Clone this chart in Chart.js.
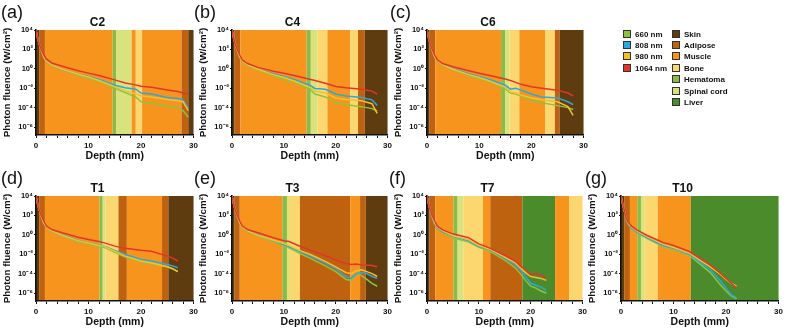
<!DOCTYPE html>
<html><head><meta charset="utf-8">
<script src="https://cdn.jsdelivr.net/npm/chart.js@4.4.0/dist/chart.umd.min.js"></script>
<style>
body{margin:0;width:787px;height:331px;background:#fff;position:relative;overflow:hidden;font-family:"Liberation Sans",Arial,sans-serif}
canvas{position:absolute}
.let{position:absolute;font-size:18px;line-height:18px;color:#111}
.lg{position:absolute;font-size:8px;font-weight:bold;line-height:9px;color:#111;white-space:nowrap}
.lg i{display:inline-block;width:6px;height:6px;border:1px solid #333;vertical-align:-1px;margin-right:4px}
</style></head><body>
<script>
// ---------- data ----------
const wavelengths = ['660 nm','808 nm','980 nm','1064 nm'];
const tissues = ['Skin','Adipose','Muscle','Bone','Hematoma','Spinal cord','Liver'];
const yTickValues = [1e4,1e2,1,1e-2,1e-4,1e-6];
const yTickLabels = ['10\u2074','10\u00B2','10\u2070','10\u207B\u00B2','10\u207B\u2074','10\u207B\u2076'];
const xTickLabels = ['0','10','20','30'];
const panelTitles = ['C2','C4','C6','T1','T3','T7','T10'];
const panelLetters = ['(a)','(b)','(c)','(d)','(e)','(f)','(g)'];

// C2
const depthC2 = [0,0.3,0.6,1,1.5,2,3,5,8,10,12,15,17,19,20,22,25,27,28,29];
const red_C2 = [1e4,1.6e3,4e2,1e2,2.5e1,1e1,4,1.8,0.63,0.36,0.2,0.072,0.035,0.022,0.016,0.0126,0.0066,0.0045,0.0032,0.0025];
const blue_C2 = [1e4,1.6e3,4e2,8e1,1.6e1,6.3,2.5,0.83,0.28,0.16,0.079,0.02,0.011,0.0079,0.0032,0.0025,0.0011,0.00089,0.00063,7.9e-5];
const yellow_C2 = [1e4,1.6e3,4e2,8e1,1.6e1,6.3,2.5,0.89,0.28,0.14,0.063,0.014,0.005,0.0028,0.0016,0.00126,0.0007,0.0005,0.0004,5e-5];
const green_C2 = [1e4,1.6e3,4e2,8e1,1.6e1,5.6,2.2,0.79,0.22,0.107,0.05,0.01,0.0035,0.00126,0.0004,0.00028,0.00014,1e-4,5e-5,1e-5];
const bands_C2 = [[0,0.6,'Skin'],[0.6,1.7,'Adipose'],[1.7,14.6,'Muscle'],[14.6,15.3,'Hematoma'],[15.3,18.2,'Spinal cord'],[18.2,19.0,'Muscle'],[19.0,20.2,'Bone'],[20.2,27.7,'Muscle'],[27.7,29,'Adipose'],[29,30,'Skin']];

// C4
const depthC4 = [0,0.3,0.6,1,1.5,2,3,5,8,10,12,15,16,18,20,22,25,27,28];
const red_C4 = [1e4,1.6e3,4e2,1e2,2.5e1,7.9,3.5,1.4,0.56,0.35,0.2,0.085,0.063,0.033,0.015,0.011,0.0079,0.005,0.0025];
const blue_C4 = [1e4,1.6e3,4e2,8e1,1.6e1,6.3,2.5,0.93,0.32,0.16,0.079,0.02,0.0093,0.0079,0.0025,0.0016,0.0011,0.00063,0.00017];
const yellow_C4 = [1e4,1.6e3,4e2,8e1,1.6e1,6.3,2.5,0.89,0.25,0.126,0.056,0.0126,0.005,0.0032,0.001,0.0007,0.0005,0.00025,2.5e-5];
const green_C4 = [1e4,1.6e3,4e2,8e1,1.6e1,5.6,2.2,0.79,0.2,0.085,0.04,0.0079,0.0025,0.00126,0.00033,0.0002,0.000126,7.9e-5,4.5e-5];
const bands_C4 = [[0,0.5,'Skin'],[0.5,1.6,'Adipose'],[1.6,14.4,'Muscle'],[14.4,15.2,'Hematoma'],[15.2,16.5,'Spinal cord'],[16.5,18.4,'Bone'],[18.4,22.8,'Muscle'],[22.8,24.3,'Bone'],[24.3,25.6,'Adipose'],[25.6,30,'Skin']];

// C6
const depthC6 = [0,0.3,0.6,1,1.5,2,3,5,8,10,12,15,16,17,18,20,22,25,27,28];
const red_C6 = [1e4,1.6e3,4e2,1e2,2.5e1,7.9,3.5,1.6,0.63,0.35,0.2,0.089,0.063,0.04,0.025,0.014,0.01,0.0063,0.0032,0.0016];
const blue_C6 = [1e4,1.6e3,4e2,8e1,1.6e1,6.3,2.5,1.0,0.32,0.16,0.079,0.02,0.0079,0.01,0.0063,0.0025,0.00126,0.001,0.0004,0.0002];
const yellow_C6 = [1e4,1.6e3,4e2,8e1,1.6e1,6.3,2.5,0.89,0.25,0.126,0.056,0.0126,0.004,0.0032,0.002,0.001,0.00063,0.0004,0.000126,1.6e-5];
const green_C6 = [1e4,1.6e3,4e2,8e1,1.6e1,5.6,2.2,0.79,0.2,0.1,0.045,0.0079,0.0032,0.0025,0.0016,0.0005,0.00032,0.00016,0.0001,6.3e-5];
const bands_C6 = [[0,0.5,'Skin'],[0.5,1.6,'Adipose'],[1.6,14.2,'Muscle'],[14.2,15.0,'Hematoma'],[15.0,15.8,'Spinal cord'],[15.8,17.7,'Bone'],[17.7,22.7,'Muscle'],[22.7,24.5,'Bone'],[24.5,25.4,'Adipose'],[25.4,30,'Skin']];

// T1
const depthT1 = [0,0.3,0.6,1,1.5,2,3,5,8,10,12,13,15,17,20,22,25,26,27];
const red_T1 = [1e4,1.6e3,4e2,1e2,2.5e1,7.9,3.5,1.6,0.56,0.33,0.2,0.148,0.068,0.04,0.025,0.02,0.0063,0.004,0.002];
const blue_T1 = [1e4,1.6e3,4e2,8e1,1.6e1,6.3,2.5,1.0,0.28,0.148,0.089,0.068,0.025,0.0093,0.0028,0.002,0.00085,0.00063,0.0004];
const yellow_T1 = [1e4,1.6e3,4e2,8e1,1.6e1,6.3,2.5,0.89,0.25,0.14,0.079,0.063,0.02,0.0063,0.002,0.00126,0.0005,0.00032,0.00016];
const green_T1 = [1e4,1.6e3,4e2,8e1,1.6e1,5.6,2.2,0.79,0.2,0.11,0.063,0.05,0.016,0.005,0.0016,0.001,0.0005,0.00032,0.00016];
const bands_T1 = [[0,0.6,'Skin'],[0.6,1.7,'Adipose'],[1.7,12.1,'Muscle'],[12.1,12.7,'Hematoma'],[12.7,13.2,'Spinal cord'],[13.2,15.7,'Bone'],[15.7,17.3,'Adipose'],[17.3,24.0,'Muscle'],[24.0,25.2,'Adipose'],[25.2,30,'Skin']];

// T3
const depthT3 = [0,0.3,0.6,1,1.5,2,3,5,8,10,11,13,15,18,20,22,23,24,25,26,27,28];
const red_T3 = [1e4,1.6e3,4e2,1e2,2.5e1,7.9,3.5,1.6,0.5,0.25,0.2,0.07,0.028,0.007,0.0025,0.0011,0.00089,0.001,0.00079,0.00079,0.0007,0.0005];
const blue_T3 = [1e4,1.6e3,4e2,8e1,1.6e1,6.3,2.5,1.0,0.25,0.1,0.063,0.02,0.007,0.00126,0.00032,5e-5,3.2e-5,1e-4,1.26e-4,1e-4,5e-5,3.2e-5];
const yellow_T3 = [1e4,1.6e3,4e2,8e1,1.6e1,6.3,2.5,0.89,0.28,0.126,0.079,0.025,0.01,0.0018,0.0005,0.000126,1e-4,0.0002,0.00025,0.00016,1e-4,5e-5];
const green_T3 = [1e4,1.6e3,4e2,8e1,1.6e1,5.6,2.2,0.79,0.2,0.079,0.045,0.0126,0.004,0.00063,0.00016,2.5e-5,2e-5,1e-4,6.3e-5,2.5e-5,1e-5,5e-6];
const bands_T3 = [[0,0.5,'Skin'],[0.5,1.5,'Adipose'],[1.5,9.7,'Muscle'],[9.7,10.6,'Hematoma'],[10.6,11.0,'Spinal cord'],[11.0,13.1,'Bone'],[13.1,22.8,'Adipose'],[22.8,24.7,'Muscle'],[24.7,25.8,'Adipose'],[25.8,30,'Skin']];

// T7
const depthT7 = [0,0.3,0.6,1,1.5,2,3,5,8,10,12,15,17,18,19,20,21,22,23];
const red_T7 = [1e4,1.6e3,4e2,1e2,2.5e1,7.9,3.2,1.26,0.5,0.117,0.045,0.0079,0.002,0.00063,0.00025,7.9e-5,1e-4,6.3e-5,3.2e-5];
const blue_T7 = [1e4,1.6e3,4e2,6.3e1,1.26e1,5,2,0.7,0.25,0.063,0.032,0.004,0.00079,0.00025,5e-5,1e-5,6.3e-6,4e-6,2e-6];
const yellow_T7 = [1e4,1.6e3,4e2,8e1,1.6e1,6.3,2.5,0.79,0.32,0.079,0.035,0.005,0.00126,0.0004,0.000126,5e-5,4e-5,3.2e-5,2e-5];
const green_T7 = [1e4,1.6e3,4e2,6.3e1,1.26e1,4.5,1.8,0.5,0.18,0.05,0.022,0.0025,0.0004,1e-4,2e-5,5e-6,3.2e-6,1.6e-6,1e-6];
const bands_T7 = [[0,0.5,'Skin'],[0.5,1.6,'Adipose'],[1.6,5.1,'Muscle'],[5.1,5.9,'Hematoma'],[5.9,7.0,'Spinal cord'],[7.0,10.8,'Bone'],[10.8,12.2,'Muscle'],[12.2,18.4,'Adipose'],[18.4,24.7,'Liver'],[24.7,27.4,'Muscle'],[27.4,30,'Bone']];

// T10
const depthT10 = [0,0.3,0.6,1,1.5,2,3,5,8,10,13,15,17,19,20,21,22];
const red_T10 = [1e4,1.6e3,4e2,4e1,1.6e1,7.9,3.2,0.85,0.16,0.079,0.019,0.004,0.00079,1e-4,3.2e-5,1e-5,3.2e-6];
const blue_T10 = [1e4,1.6e3,4e2,3.2e1,1e1,5,2,0.5,0.079,0.04,0.01,0.0016,0.00025,1.6e-5,3.2e-6,6.3e-7,3.2e-7];
const yellow_T10 = [1e4,1.6e3,4e2,4e1,1.26e1,6.3,2.5,0.63,0.11,0.05,0.0126,0.0025,0.0005,7.9e-5,2.5e-5,1e-5,5e-6];
const green_T10 = [1e4,1.6e3,4e2,3.2e1,1e1,4.5,1.8,0.4,0.063,0.032,0.0079,0.001,0.000126,6.3e-6,1.6e-6,5e-7,2.5e-7];
const bands_T10 = [[0,0.6,'Skin'],[0.6,1.7,'Adipose'],[1.7,3.1,'Muscle'],[3.1,3.8,'Hematoma'],[3.8,4.5,'Spinal cord'],[4.5,7.0,'Bone'],[7.0,13.3,'Muscle'],[13.3,30,'Liver']];

// ---------- styles ----------
const FONT = '"Liberation Sans", Arial, sans-serif';
const waveColors = ['#8cc43f','#2aa8e0','#f4c02a','#e6342b'];
const tissueColors = {'Skin':'#5e3c10','Adipose':'#bf620f','Muscle':'#f7941e','Bone':'#fcd770','Hematoma':'#8cba48','Spinal cord':'#d8e37c','Liver':'#4c8b2c'};

const panels = [
  {depth:depthC2, s:[green_C2,blue_C2,yellow_C2,red_C2], bands:bands_C2, plotLeft:36, plotRight:195, plotTop:30},
  {depth:depthC4, s:[green_C4,blue_C4,yellow_C4,red_C4], bands:bands_C4, plotLeft:232, plotRight:389, plotTop:30},
  {depth:depthC6, s:[green_C6,blue_C6,yellow_C6,red_C6], bands:bands_C6, plotLeft:427, plotRight:585, plotTop:30},
  {depth:depthT1, s:[green_T1,blue_T1,yellow_T1,red_T1], bands:bands_T1, plotLeft:36, plotRight:195, plotTop:196},
  {depth:depthT3, s:[green_T3,blue_T3,yellow_T3,red_T3], bands:bands_T3, plotLeft:232, plotRight:389, plotTop:196},
  {depth:depthT7, s:[green_T7,blue_T7,yellow_T7,red_T7], bands:bands_T7, plotLeft:427, plotRight:584, plotTop:196},
  {depth:depthT10, s:[green_T10,blue_T10,yellow_T10,red_T10], bands:bands_T10, plotLeft:621, plotRight:780, plotTop:196}
];
const letterPos = [[1,3],[194,3],[390,3],[1,169],[194,169],[389,169],[585,169]];

const bandPlugin = {
  id:'bands',
  beforeDraw(chart){
    const list = chart.options.plugins.bands.list;
    const {ctx, chartArea:a, scales:{x}} = chart;
    ctx.save();
    for (const [s,e,t] of list){
      const x0 = x.getPixelForValue(s), x1 = x.getPixelForValue(e);
      ctx.fillStyle = tissueColors[t];
      ctx.fillRect(x0, a.top, x1-x0, a.bottom-a.top);
    }
    ctx.restore();
  }
};

const LEFTW = 36, RIGHTPAD = 6, TOPH = 20, BOTH = 27, PLOTH = 105;

panels.forEach((p, i) => {
  const cv = document.createElement('canvas');
  const w = (p.plotRight - p.plotLeft) + LEFTW + RIGHTPAD;
  const h = TOPH + PLOTH + BOTH;
  cv.width = w; cv.height = h;
  cv.style.left = (p.plotLeft - LEFTW) + 'px';
  cv.style.top = (p.plotTop - TOPH) + 'px';
  cv.style.width = w + 'px'; cv.style.height = h + 'px';
  document.body.appendChild(cv);

  const datasets = p.s.map((vals, k) => ({
    label: wavelengths[k],
    data: p.depth.map((d, j) => ({x:d, y:vals[j]})),
    borderColor: waveColors[k],
    backgroundColor: waveColors[k],
    borderWidth: 1.5,
    pointRadius: 0,
    tension: 0,
    order: 3 - k
  }));

  new Chart(cv, {
    type:'line',
    data:{datasets},
    options:{
      responsive:false, animation:false, devicePixelRatio:1,
      layout:{padding:{left:0,right:RIGHTPAD,top:0,bottom:0}},
      plugins:{
        legend:{display:false}, tooltip:{enabled:false},
        title:{display:true, text:panelTitles[i], color:'#111', font:{family:FONT,size:12,weight:'bold',lineHeight:1.2}, padding:{top:TOPH-14.4,bottom:0}},
        bands:{list:p.bands}
      },
      scales:{
        x:{
          type:'linear', min:0, max:30,
          afterFit(s){ s.height = BOTH; },
          ticks:{stepSize:2, autoSkip:false, maxRotation:0, padding:3, color:'#111',
            font:{family:FONT,size:8,weight:'bold'},
            callback:(v)=> (v % 10 === 0 ? xTickLabels[v/10] : '')},
          grid:{display:true, drawOnChartArea:false, drawTicks:true, tickLength:3, color:'#111', lineWidth:1},
          border:{display:true, color:'#111', width:1.6},
          title:{display:true, text:'Depth (mm)', color:'#111', font:{family:FONT,size:10.5,weight:'bold',lineHeight:1.2}, padding:0}
        },
        y:{
          type:'logarithmic', min:1.5e-7, max:1e4,
          afterFit(s){ s.width = LEFTW; },
          afterBuildTicks(s){ s.ticks = yTickValues.map(v=>({value:v})); },
          ticks:{autoSkip:false, padding:1, color:'#111', font:{family:FONT,size:7.5,weight:'bold'},
            callback:(v, idx)=> yTickLabels[idx]},
          grid:{display:true, drawOnChartArea:false, drawTicks:true, tickLength:2, color:'#111', lineWidth:1},
          border:{display:true, color:'#111', width:1.6},
          title:{display:true, text:'Photon fluence (W/cm\u00B2)', color:'#111', font:{family:FONT,size:9.8,weight:'bold',lineHeight:1.2}, padding:{top:1,bottom:0}}
        }
      }
    },
    plugins:[bandPlugin]
  });

  const L = document.createElement('div');
  L.className = 'let';
  L.textContent = panelLetters[i];
  L.style.left = letterPos[i][0] + 'px';
  L.style.top = letterPos[i][1] + 'px';
  document.body.appendChild(L);
});

// legend
const legendRows = 11.4;
wavelengths.forEach((w, k) => {
  const d = document.createElement('div');
  d.className = 'lg';
  d.style.left = '623px'; d.style.top = (29.5 + k*legendRows) + 'px';
  d.innerHTML = '<i style="background:' + waveColors[k] + '"></i>' + w;
  document.body.appendChild(d);
});
tissues.forEach((t, k) => {
  const d = document.createElement('div');
  d.className = 'lg';
  d.style.left = '672px'; d.style.top = (29.5 + k*legendRows) + 'px';
  d.innerHTML = '<i style="background:' + tissueColors[t] + '"></i>' + t;
  document.body.appendChild(d);
});
</script>
</body></html>
